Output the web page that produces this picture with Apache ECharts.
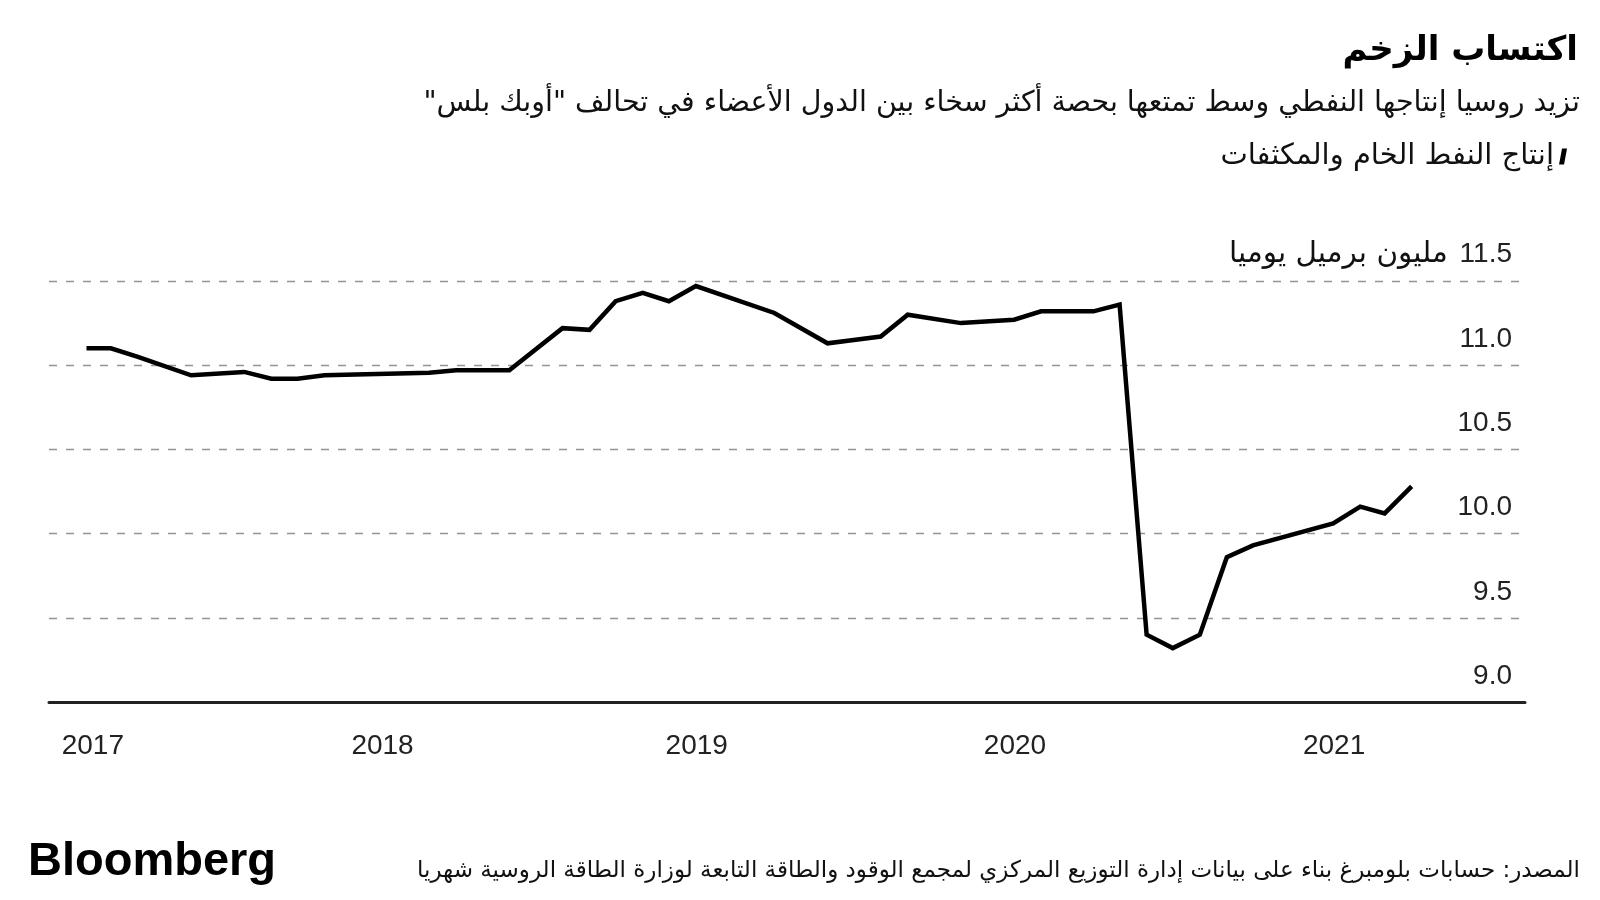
<!DOCTYPE html>
<html>
<head>
<meta charset="utf-8">
<script src="https://cdn.jsdelivr.net/npm/echarts@6/dist/echarts.min.js"></script>
<style>
html,body{margin:0;padding:0;background:#fff;}
#chart{width:1600px;height:900px;}
</style>
</head>
<body>
<div id="chart"></div>
<script>
// ---- data ----
const dates = ['2017-01-31','2017-02-28','2017-03-31','2017-05-31','2017-07-31','2017-08-31','2017-09-30','2017-10-31',
  '2018-02-28','2018-03-31','2018-05-31','2018-07-31','2018-08-31','2018-09-30','2018-10-31','2018-11-30','2018-12-31',
  '2019-03-31','2019-05-31','2019-06-30','2019-07-31','2019-08-31','2019-10-31','2019-12-31',
  '2020-01-31','2020-03-31','2020-04-30','2020-05-31','2020-06-30','2020-07-31','2020-08-31','2020-09-30','2020-12-31',
  '2021-01-31','2021-02-28','2021-03-31'];
const production = [11.10,11.10,11.05,10.94,10.96,10.92,10.92,10.94,
  10.955,10.97,10.97,11.22,11.21,11.38,11.43,11.38,11.47,
  11.31,11.13,11.15,11.17,11.30,11.25,11.27,
  11.32,11.32,11.36,9.40,9.32,9.40,9.86,9.93,10.06,
  10.16,10.12,10.28];
const yearTicks = [2017,2018,2019,2020,2021];
const yTicks = [9.0,9.5,10.0,10.5,11.0,11.5];
const xRange = ['2016-12-19','2021-08-08'];
const seriesName = 'إنتاج النفط الخام والمكثفات';
const unitLabel = 'مليون برميل يوميا';
const titleText = 'اكتساب الزخم';
const subtitleText = 'تزيد روسيا إنتاجها النفطي وسط تمتعها بحصة أكثر سخاء بين الدول الأعضاء في تحالف "أوبك بلس"\u200F';
const sourceText = 'المصدر: حسابات بلومبرغ بناء على بيانات إدارة التوزيع المركزي لمجمع الوقود والطاقة التابعة لوزارة الطاقة الروسية شهريا';

const latin = '"Liberation Sans", Arial, sans-serif';
const arabic = '"DejaVu Sans", "Liberation Sans", sans-serif';

function ts(s){ const p = s.split('-').map(Number); return Date.UTC(p[0], p[1]-1, p[2]); }

const chart = echarts.init(document.getElementById('chart'), null, {renderer:'canvas'});
const yearValues = yearTicks.map(y => Date.UTC(y,0,1));

chart.setOption({
  animation:false,
  backgroundColor:'#ffffff',
  title:[
    {text:titleText, right:22, top:34, padding:0,
     textStyle:{fontFamily:arabic, fontSize:34, fontWeight:'bold', color:'#000'}},
    {text:subtitleText, right:20, top:89, padding:0,
     textStyle:{fontFamily:arabic, fontSize:28.5, fontWeight:'normal', color:'#111'}},
    {text:sourceText, right:20, top:860, padding:0,
     textStyle:{fontFamily:arabic, fontSize:23, fontWeight:'normal', color:'#111'}},
    {text:'Bloomberg', left:28, top:839, padding:0,
     textStyle:{fontFamily:latin, fontSize:47, fontWeight:'bold', color:'#000'}}
  ],
  legend:{
    right:33, top:142, padding:0,
    align:'right',
    itemWidth:8, itemHeight:17, itemGap:6,
    icon:'path://M3,0 L8,0 L5,16 L0,16 Z',
    textStyle:{fontFamily:arabic, fontSize:29, color:'#111'},
    data:[seriesName]
  },
  grid:{left:49, right:75, top:281, bottom:198, outerBoundsMode:'none'},
  xAxis:{
    type:'value',
    min:ts(xRange[0]), max:ts(xRange[1]),
    axisLine:{show:true, onZero:false, lineStyle:{color:'#222', width:3}},
    axisTick:{show:false},
    splitLine:{show:false},
    axisLabel:{
      customValues:yearValues,
      margin:30,
      fontFamily:latin, fontSize:28, color:'#222',
      formatter:function(v){
        const y = new Date(v).getUTCFullYear();
        if (y === yearTicks[0]) return '{first|' + y + '}';
        if (y === 2018) return '{second|' + y + '}';
        return String(y);
      },
      rich:{
        first:{fontFamily:latin, fontSize:28, color:'#222', padding:[0,0,0,65]},
        second:{fontFamily:latin, fontSize:28, color:'#222', padding:[0,0,0,8]}
      }
    }
  },
  yAxis:{
    type:'value', min:9, max:11.5, interval:0.5,
    position:'right',
    axisLine:{show:false}, axisTick:{show:false},
    splitLine:{show:true, lineStyle:{color:'#949494', width:1.3, type:[8,9]}},
    axisLabel:{
      inside:true, margin:13,
      verticalAlign:'bottom',
      padding:[0,0,12,0],
      fontFamily:latin, fontSize:28, color:'#222',
      formatter:function(v){
        const t = v.toFixed(1);
        if (Math.abs(v - yTicks[yTicks.length-1]) < 1e-9) return '{u|' + unitLabel + '}{n| ' + t + '}';
        return t;
      },
      rich:{
        u:{fontFamily:arabic, fontSize:29.5, color:'#111', padding:[0,4,0,0]},
        n:{fontFamily:latin, fontSize:28, color:'#222'}
      }
    }
  },
  series:[{
    name:seriesName,
    type:'line',
    data:dates.map((d,i)=>[ts(d), production[i]]),
    showSymbol:false,
    symbol:'none',
    lineStyle:{color:'#000', width:4.5, join:'miter'},
    itemStyle:{color:'#000'}
  }]
});
</script>
</body>
</html>
